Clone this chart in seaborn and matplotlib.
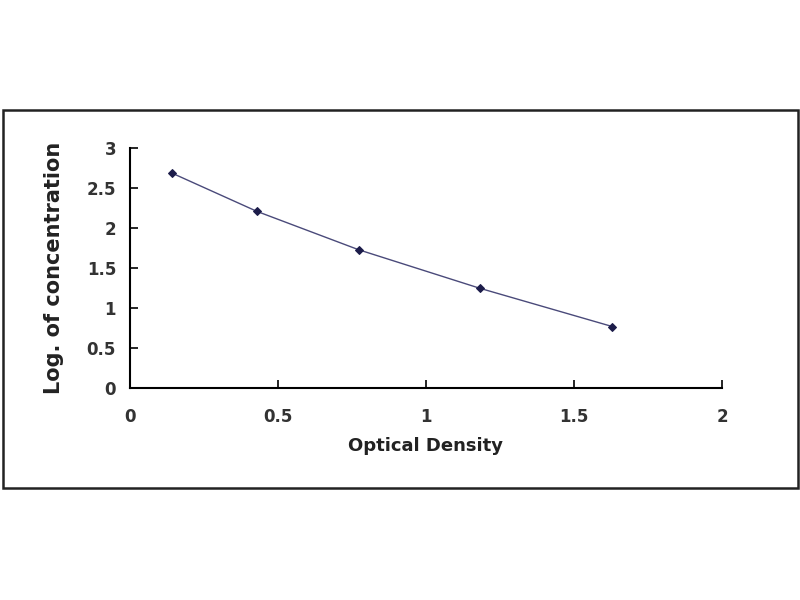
import pandas as pd
import matplotlib
matplotlib.use("Agg")
import matplotlib.pyplot as plt
import seaborn as sns
from matplotlib.patches import Rectangle

# standard curve values
optical_density = [0.141, 0.429, 0.773, 1.181, 1.630]
log_concentration = [2.69, 2.21, 1.73, 1.25, 0.77]
x_ticks = [0, 0.5, 1, 1.5, 2]
y_ticks = [0, 0.5, 1, 1.5, 2, 2.5, 3]

df = pd.DataFrame({"od": optical_density, "logc": log_concentration})

sns.set_style("white")
plt.rcParams["font.family"] = ["DejaVu Sans"]
plt.rcParams["font.weight"] = "bold"

fig = plt.figure(figsize=(8, 6), dpi=100)
ax = fig.add_axes([0.1625, 0.353, 0.74, 0.40])

# outer frame round the chart
fig.patches.append(Rectangle((0.004, 0.187), 0.9935, 0.63, transform=fig.transFigure,
                             fill=False, edgecolor="#222222", linewidth=1.8))

sns.lineplot(data=df, x="od", y="logc", ax=ax, color="#4a4a7a", linewidth=1.0,
             marker="D", markersize=4.5, markerfacecolor="#1c1c4a", markeredgecolor="#1c1c4a")

ax.set_xlim(0, 2)
ax.set_ylim(0, 3)
ax.set_xticks(x_ticks)
ax.set_xticklabels([f"{t:g}" for t in x_ticks], fontsize=12, fontweight="bold", color="#333333")
ax.set_yticks(y_ticks)
ax.set_yticklabels([f"{t:g}" for t in y_ticks], fontsize=12, fontweight="bold", color="#333333")
ax.tick_params(axis="both", direction="in", length=6, width=1.2, color="black",
               bottom=True, left=True)
ax.tick_params(axis="x", pad=14)
ax.tick_params(axis="y", pad=10)
ax.set_xlabel("Optical Density", fontsize=13, fontweight="bold", labelpad=8, color="#222222")
ax.set_ylabel("Log. of concentration", fontsize=15, fontweight="bold", labelpad=16, color="#222222")

for side in ["top", "right"]:
    ax.spines[side].set_visible(False)
for side in ["left", "bottom"]:
    ax.spines[side].set_color("black")
    ax.spines[side].set_linewidth(1.5)

fig.savefig("out.png", dpi=100)
